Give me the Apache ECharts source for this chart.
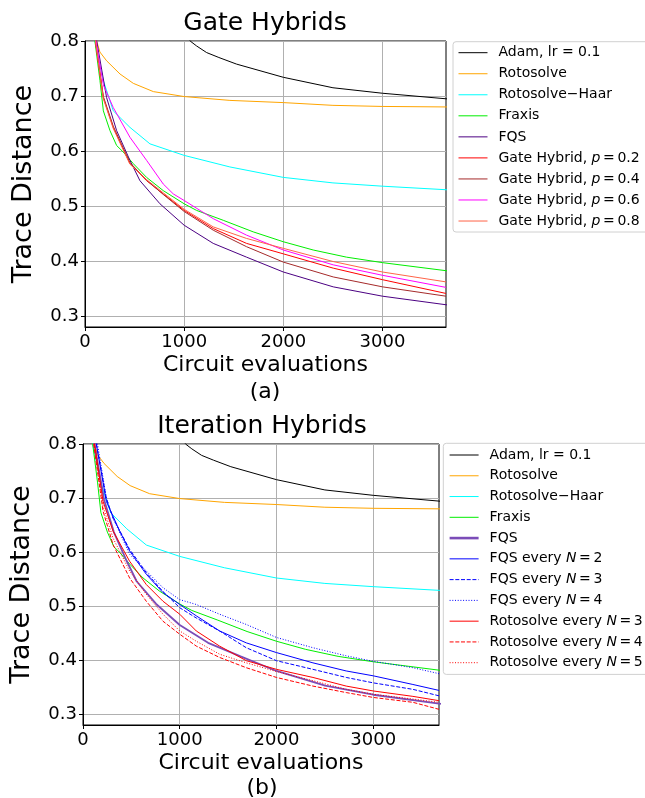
<!DOCTYPE html>
<html>
<head>
<meta charset="utf-8">
<script src="https://cdn.jsdelivr.net/npm/echarts@6/dist/echarts.min.js"></script>
<style>
html, body { margin: 0; padding: 0; background: #fff; }
#main { width: 645px; height: 798px; }
</style>
</head>
<body>
<div id="main"></div>
<script>
// data: [circuit evaluations, trace distance]
var adam = [[600,0.95],[1060,0.8],[1125,0.791],[1226,0.779],[1350,0.770],[1528,0.758],[2000,0.734],[2500,0.715],[3000,0.705],[3700,0.694]];
var rotosolve = [[60,0.95],[118,0.8],[150,0.78],[218,0.764],[353,0.74],[487,0.723],[689,0.708],[1000,0.699],[1461,0.692],[2000,0.688],[2500,0.683],[3000,0.681],[3700,0.680]];
var haar = [[50,1.0],[100,0.8],[185,0.728],[285,0.673],[453,0.643],[655,0.613],[1000,0.592],[1461,0.571],[2000,0.552],[2500,0.542],[3000,0.536],[3700,0.529]];
var fraxis = [[40,1.0],[100,0.8],[151,0.728],[185,0.673],[252,0.637],[319,0.61],[386,0.598],[487,0.577],[621,0.552],[789,0.528],[1000,0.504],[1125,0.492],[1394,0.474],[1696,0.453],[2000,0.435],[2301,0.42],[2637,0.407],[3000,0.397],[3700,0.381]];
var fqs = [[50,1.0],[118,0.8],[218,0.697],[319,0.637],[453,0.583],[554,0.546],[756,0.504],[1000,0.465],[1293,0.432],[1629,0.407],[2000,0.38],[2503,0.353],[3000,0.336],[3700,0.319]];

var gate02 = [[50,1.0],[105,0.8],[185,0.697],[285,0.643],[453,0.577],[621,0.546],[789,0.522],[1000,0.492],[1293,0.459],[1629,0.432],[2000,0.413],[2503,0.387],[3000,0.366],[3640,0.341]];
var gate04 = [[50,1.0],[105,0.8],[185,0.699],[285,0.645],[453,0.579],[621,0.547],[789,0.521],[1000,0.490],[1293,0.456],[1629,0.426],[2000,0.398],[2503,0.371],[3000,0.353],[3640,0.336]];
var gate06 = [[50,1.0],[110,0.8],[185,0.72],[285,0.679],[453,0.625],[621,0.583],[789,0.54],[890,0.522],[1000,0.51],[1293,0.477],[1629,0.447],[2000,0.42],[2503,0.393],[3000,0.374],[3640,0.352]];
var gate08 = [[50,1.0],[105,0.8],[185,0.695],[285,0.641],[453,0.576],[621,0.548],[789,0.524],[1000,0.494],[1293,0.462],[1629,0.441],[2000,0.423],[2503,0.399],[3000,0.38],[3640,0.362]];

var fqsN2 = [[60,1.0],[138,0.8],[241,0.694],[379,0.639],[482,0.602],[654,0.559],[827,0.525],[1000,0.503],[1171,0.482],[1412,0.454],[1688,0.432],[2000,0.414],[2377,0.395],[2721,0.38],[3000,0.371],[3410,0.355],[3680,0.344]];
var fqsN3 = [[60,1.0],[138,0.8],[241,0.7],[310,0.663],[482,0.605],[654,0.562],[827,0.527],[1000,0.497],[1171,0.478],[1412,0.454],[1688,0.423],[2000,0.399],[2377,0.383],[2721,0.368],[3000,0.358],[3410,0.346],[3680,0.334]];
var fqsN4 = [[60,1.0],[150,0.8],[241,0.7],[310,0.663],[482,0.596],[654,0.565],[827,0.534],[1000,0.512],[1171,0.503],[1412,0.485],[1688,0.466],[2000,0.442],[2377,0.423],[2721,0.408],[3000,0.398],[3410,0.386],[3680,0.375]];
var rotoN3 = [[50,1.0],[120,0.8],[207,0.694],[310,0.639],[482,0.583],[654,0.54],[827,0.509],[1000,0.485],[1171,0.454],[1412,0.426],[1688,0.399],[2000,0.383],[2377,0.368],[2721,0.352],[3000,0.343],[3410,0.333],[3680,0.325]];
var rotoN4 = [[50,1.0],[110,0.8],[207,0.676],[310,0.614],[482,0.552],[654,0.509],[827,0.472],[1000,0.448],[1171,0.426],[1412,0.405],[1688,0.386],[2000,0.368],[2377,0.352],[2721,0.34],[3000,0.331],[3410,0.322],[3680,0.309]];
var rotoN5 = [[50,1.0],[115,0.8],[207,0.685],[310,0.626],[482,0.565],[654,0.522],[827,0.485],[1000,0.454],[1171,0.435],[1412,0.411],[1688,0.395],[2000,0.379],[2377,0.362],[2721,0.346],[3000,0.337],[3410,0.328],[3680,0.322]];

var xTicks = [0, 1000, 2000, 3000];
var yTicks = [0.3, 0.4, 0.5, 0.6, 0.7, 0.8];

var FONT = 'DejaVu Sans';
var dashed = [4, 1.7];
var dotted = [1, 1.7];

function line(name, data, color, idx, dash, width) {
    return {
        name: name,
        type: 'line',
        xAxisIndex: idx,
        yAxisIndex: idx,
        data: data,
        symbol: 'none',
        clip: true,
        silent: true,
        lineStyle: { color: color, width: width || 1, type: dash || 'solid' },
        itemStyle: { color: color }
    };
}

var topSeries = [
    line('Adam, lr = 0.1', adam, '#000000', 0),
    line('Rotosolve', rotosolve, '#ffa500', 0),
    line('Rotosolve\u2212Haar', haar, '#00ffff', 0),
    line('Fraxis', fraxis, '#00ee00', 0),
    line('FQS', fqs, '#4b0082', 0),
    line('Gate Hybrid, p = 0.2', gate02, '#ff0000', 0),
    line('Gate Hybrid, p = 0.4', gate04, '#a52a2a', 0),
    line('Gate Hybrid, p = 0.6', gate06, '#ff00ff', 0),
    line('Gate Hybrid, p = 0.8', gate08, '#ff6347', 0)
];
var botSeries = [
    line('b:Adam, lr = 0.1', adam, '#000000', 1),
    line('b:Rotosolve', rotosolve, '#ffa500', 1),
    line('b:Rotosolve\u2212Haar', haar, '#00ffff', 1),
    line('b:Fraxis', fraxis, '#00ee00', 1),
    line('b:FQS', fqs, '#7b4cb8', 1, null, 1.8),
    line('b:FQS every N = 2', fqsN2, '#0000ff', 1),
    line('b:FQS every N = 3', fqsN3, '#0000ff', 1, dashed),
    line('b:FQS every N = 4', fqsN4, '#0000ff', 1, dotted),
    line('b:Rotosolve every N = 3', rotoN3, '#ff0000', 1),
    line('b:Rotosolve every N = 4', rotoN4, '#ff0000', 1, dashed),
    line('b:Rotosolve every N = 5', rotoN5, '#ff0000', 1, dotted)
];

function legendText(name) {
    return name.replace(/^b:/, '').replace(/ (p|N) = /, ' {i|$1}{e|=}');
}

function xAxis(idx, max, label) {
    return {
        type: 'value', gridIndex: idx, min: 0, max: max,
        name: label, nameLocation: 'middle', nameGap: 27,
        nameTextStyle: { fontFamily: FONT, fontSize: 22, color: '#000' },
        axisLine: { show: true, lineStyle: { color: '#000', width: 1 } },
        axisTick: { show: true, length: 4, customValues: xTicks, lineStyle: { color: '#000' } },
        axisLabel: { customValues: xTicks, margin: 6, fontFamily: FONT, fontSize: 18, color: '#000',
            formatter: function (v) { return String(v); } },
        splitLine: { show: true, lineStyle: { color: '#b0b0b0', width: 1 } }
    };
}
function yAxis(idx) {
    return {
        type: 'value', gridIndex: idx, min: 0.28, max: 0.8,
        name: 'Trace Distance', nameLocation: 'middle', nameGap: 48,
        nameTextStyle: { fontFamily: FONT, fontSize: 27, color: '#000' },
        axisLine: { show: true, lineStyle: { color: '#000', width: 1 } },
        axisTick: { show: true, length: 4, customValues: yTicks, lineStyle: { color: '#000' } },
        axisLabel: { customValues: yTicks, margin: 6, fontFamily: FONT, fontSize: 18, color: '#000',
            formatter: function (v) { return v.toFixed(1); } },
        splitLine: { show: true, lineStyle: { color: '#b0b0b0', width: 1 } }
    };
}
function legend(series, left, top, gap, pad) {
    return {
        data: series.map(function (s) {
            return { name: s.name, lineStyle: { width: s.lineStyle.width > 1 ? 2.6 : 1 } };
        }),
        orient: 'vertical', left: left, top: top,
        itemWidth: 29, itemHeight: 14, itemGap: gap,
        padding: [pad, 12, pad, 5],
        borderColor: '#d0d0d0', borderWidth: 1, borderRadius: 3,
        backgroundColor: '#fff',
        selectedMode: false,
        itemStyle: { opacity: 0 },
        formatter: legendText,
        textStyle: {
            fontFamily: FONT, fontSize: 14, color: '#000', padding: [0, 0, 0, 6],
            rich: {
                i: { fontFamily: FONT, fontSize: 14, fontStyle: 'italic', color: '#000' },
                e: { fontFamily: FONT, fontSize: 14, color: '#000', padding: [0, 2.6, 0, 2.6] }
            }
        }
    };
}

var chart = echarts.init(document.getElementById('main'));
chart.setOption({
    animation: false,
    backgroundColor: '#fff',
    grid: [
        { left: 85, top: 41, width: 361, height: 286, show: true, borderColor: '#000', borderWidth: 1 },
        { left: 83, top: 444, width: 356, height: 281, show: true, borderColor: '#000', borderWidth: 1 }
    ],
    xAxis: [xAxis(0, 3640, 'Circuit evaluations'), xAxis(1, 3680, 'Circuit evaluations')],
    yAxis: [yAxis(0), yAxis(1)],
    legend: [legend(topSeries, 453, 41.7, 7.04, 4), legend(botSeries, 443.3, 443.3, 6.77, 4.7)],
    graphic: [
        { type: 'text', x: 265, y: 23, style: { text: 'Gate Hybrids', font: '25px DejaVu Sans', fill: '#000', align: 'center', verticalAlign: 'middle' } },
        { type: 'text', x: 265, y: 392, style: { text: '(a)', font: '22px DejaVu Sans', fill: '#000', align: 'center', verticalAlign: 'middle' } },
        { type: 'text', x: 262, y: 426, style: { text: 'Iteration Hybrids', font: '25px DejaVu Sans', fill: '#000', align: 'center', verticalAlign: 'middle' } },
        { type: 'text', x: 262, y: 788, style: { text: '(b)', font: '22px DejaVu Sans', fill: '#000', align: 'center', verticalAlign: 'middle' } }
    ],
    series: topSeries.concat(botSeries)
});
</script>
</body>
</html>
